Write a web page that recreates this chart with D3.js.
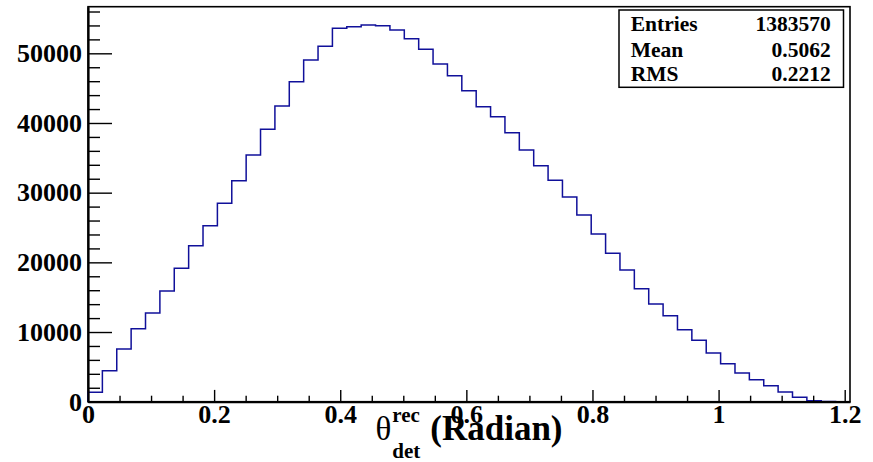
<!DOCTYPE html>
<html>
<head>
<meta charset="utf-8">
<script src="https://cdn.jsdelivr.net/npm/d3@7"></script>
<style>
  html, body { margin: 0; padding: 0; background: #fff; }
  svg { display: block; }
  text { font-family: "Liberation Serif", "Times New Roman", serif; font-weight: bold; fill: #000; }
</style>
</head>
<body>
<svg id="chart" width="873" height="462"></svg>
<script>
// ---- data ----
const xRange = [0, 1.2084];
const binCounts = [
  1350, 4450, 7560, 10480, 12730, 15890, 19140, 22390, 25260, 28470,
  31710, 35400, 39090, 42440, 45920, 49040, 51000, 53590, 53820, 54060,
  53960, 53340, 52100, 50570, 48460, 46790, 44630, 42340, 40900, 38600,
  36120, 33870, 31770, 29380, 26790, 24070, 21300, 18900, 16220, 14020,
  12340, 10330, 8810, 6990, 5450, 4120, 3160, 2300, 1390, 630,
  150, 30, 0
];
const yMaxValue = 56690;
const xTickValues = [0, 0.2, 0.4, 0.6, 0.8, 1, 1.2];
const xTickLabels = ["0", "0.2", "0.4", "0.6", "0.8", "1", "1.2"];
const xMinorStep = 0.05;
const yTickValues = [0, 10000, 20000, 30000, 40000, 50000];
const yTickLabels = ["0", "10000", "20000", "30000", "40000", "50000"];
const yMinorStep = 2000;
const statNames = ["Entries", "Mean", "RMS"];
const statValues = ["1383570", "0.5062", "0.2212"];
const titleParts = { symbol: "θ", sup: "rec", sub: "det", rest: "(Radian)" };

// ---- layout ----
const W = 873, H = 462;
const frame = { left: 88, right: 850, top: 6.7, bottom: 401.7 };
const svg = d3.select("#chart");
svg.append("rect").attr("width", W).attr("height", H).attr("fill", "#fff");

const x = d3.scaleLinear().domain(xRange).range([frame.left, frame.right]);
const y = d3.scaleLinear().domain([0, yMaxValue]).range([frame.bottom, frame.top]);

// frame
svg.append("rect")
  .attr("x", frame.left).attr("y", frame.top)
  .attr("width", frame.right - frame.left).attr("height", frame.bottom - frame.top)
  .attr("fill", "#fff").attr("stroke", "#000").attr("stroke-width", 1.6);

// histogram outline
const nb = binCounts.length;
const bw = (xRange[1] - xRange[0]) / nb;
const pts = [[x(xRange[0]), y(0)]];
binCounts.forEach((c, i) => {
  pts.push([x(xRange[0] + i * bw), y(c)]);
  pts.push([x(xRange[0] + (i + 1) * bw), y(c)]);
});
pts.push([x(xRange[1]), y(0)]);
svg.append("path")
  .attr("d", d3.line()(pts))
  .attr("fill", "none").attr("stroke", "#10109a").attr("stroke-width", 1.5)
  .attr("stroke-linejoin", "miter");

// x minor ticks
const xMinor = d3.range(0, xRange[1] + 1e-9, xMinorStep).filter(v => !xTickValues.some(t => Math.abs(t - v) < 1e-6));
const gxMinor = svg.append("g").attr("transform", `translate(0,${frame.bottom})`)
  .call(d3.axisBottom(x).tickValues(xMinor).tickSizeInner(-6).tickSizeOuter(0).tickFormat(""));
gxMinor.select(".domain").remove();

// x major
const gx = svg.append("g").attr("transform", `translate(0,${frame.bottom})`)
  .call(d3.axisBottom(x).tickValues(xTickValues).tickSizeInner(-11.8).tickSizeOuter(0)
    .tickPadding(3).tickFormat((d, i) => xTickLabels[i]));
gx.select(".domain").attr("stroke-width", 2.2);
gx.selectAll("text").style("font-size", "26px").attr("font-family", null);

// y minor ticks
const yMinor = d3.range(0, yMaxValue, yMinorStep).filter(v => v % 10000 !== 0);
const gyMinor = svg.append("g").attr("transform", `translate(${frame.left},0)`)
  .call(d3.axisLeft(y).tickValues(yMinor).tickSizeInner(-12).tickSizeOuter(0).tickFormat(""));
gyMinor.select(".domain").remove();

// y major
const gy = svg.append("g").attr("transform", `translate(${frame.left},0)`)
  .call(d3.axisLeft(y).tickValues(yTickValues).tickSizeInner(-24).tickSizeOuter(0)
    .tickPadding(6).tickFormat((d, i) => yTickLabels[i]));
gy.select(".domain").attr("stroke-width", 2.2);
gy.selectAll("text").style("font-size", "26px").attr("font-family", null);
svg.selectAll(".tick line").attr("stroke", "#000").attr("stroke-width", 1.4);

// axis title
const tg = svg.append("g");
const tSym = tg.append("text").text(titleParts.symbol).attr("y", 440).style("font-size", "33px").style("font-weight", "normal");
const symW = tSym.node().getComputedTextLength();
tSym.attr("x", 0);
const tSup = tg.append("text").text(titleParts.sup).attr("x", symW + 1).attr("y", 421.5).style("font-size", "21px");
const tSub = tg.append("text").text(titleParts.sub).attr("x", symW + 1).attr("y", 458).style("font-size", "21px");
const scriptW = Math.max(tSup.node().getComputedTextLength(), tSub.node().getComputedTextLength());
const tRest = tg.append("text").text(titleParts.rest).attr("x", symW + 1 + scriptW + 10).attr("y", 440).style("font-size", "35px");
const totalW = symW + 1 + scriptW + 10 + tRest.node().getComputedTextLength();
tg.attr("transform", `translate(${(frame.left + frame.right) / 2 - totalW / 2},0)`);

// stats box
const box = { x: 619, y: 10, w: 224.5, h: 77.3 };
svg.append("rect").attr("x", box.x).attr("y", box.y).attr("width", box.w).attr("height", box.h)
  .attr("fill", "#fff").attr("stroke", "#000").attr("stroke-width", 1.5);
const rowBase = [31, 56.5, 81];
statNames.forEach((n, i) => {
  svg.append("text").attr("x", 630.7).attr("y", rowBase[i]).text(n).style("font-size", "21.5px");
  svg.append("text").attr("x", 830.7).attr("y", rowBase[i]).attr("text-anchor", "end").text(statValues[i]).style("font-size", "21.5px");
});
</script>
</body>
</html>
